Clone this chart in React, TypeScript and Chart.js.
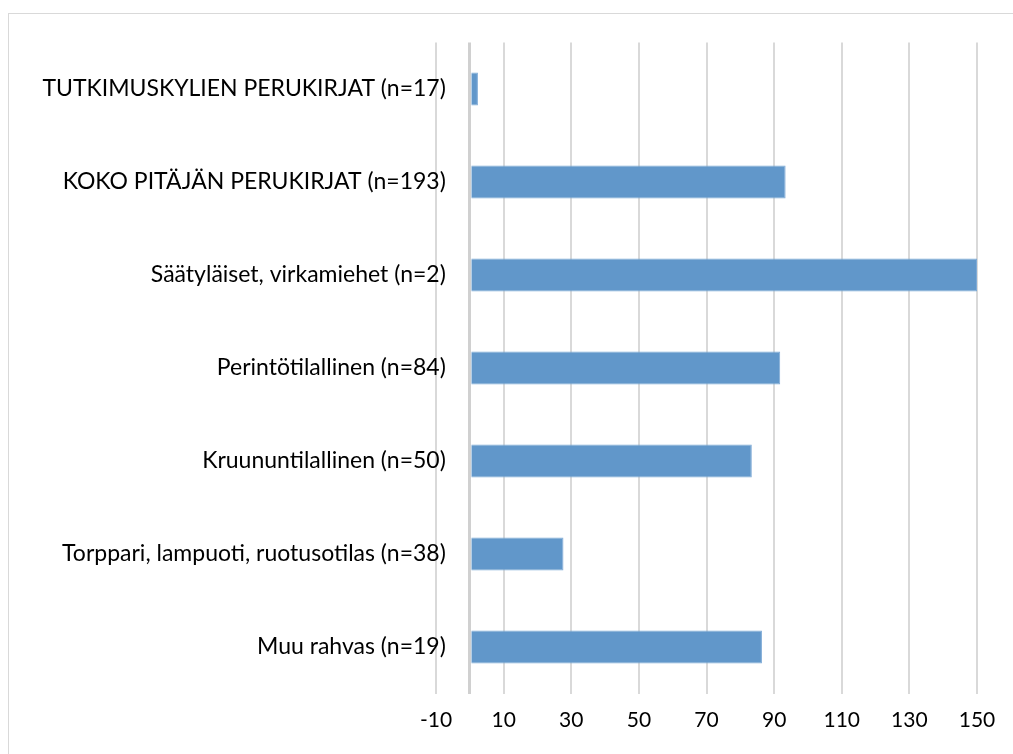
import React, { useEffect, useRef } from "react";
import { Chart, registerables } from "chart.js";

Chart.register(...registerables);

const categories = [
  "TUTKIMUSKYLIEN PERUKIRJAT (n=17)",
  "KOKO PITÄJÄN PERUKIRJAT (n=193)",
  "Säätyläiset, virkamiehet (n=2)",
  "Perintötilallinen (n=84)",
  "Kruununtilallinen (n=50)",
  "Torppari, lampuoti, ruotusotilas (n=38)",
  "Muu rahvas (n=19)",
];

const values = [2.4, 93.4, 150, 91.8, 83.4, 27.7, 86.4];

const axisMin = -10;
const axisMax = 150;
const axisStep = 20;

// value on the x axis where the category labels end (right-aligned)
const labelAnchor = -7.1;

const FONT = "Lato";

export default function App() {
  const ref = useRef<HTMLCanvasElement | null>(null);

  useEffect(() => {
    if (!ref.current) return;
    const chart = new Chart(ref.current, {
      type: "bar",
      data: {
        labels: categories,
        datasets: [
          {
            data: values,
            backgroundColor: "#6197ca",
            borderColor: "#7eaad6",
            borderWidth: 1,
            categoryPercentage: 1,
            barPercentage: 0.355,
          },
        ],
      },
      options: {
        indexAxis: "y",
        animation: false,
        responsive: false,
        maintainAspectRatio: false,
        layout: { padding: { left: 427, right: 36, top: 28.5, bottom: 0 } },
        plugins: {
          legend: { display: false },
          tooltip: { enabled: false },
          title: { display: false },
        },
        scales: {
          x: {
            type: "linear",
            min: axisMin,
            max: axisMax,
            ticks: {
              stepSize: axisStep,
              autoSkip: false,
              maxRotation: 0,
              padding: 14,
              color: "#000000",
              font: { family: FONT, size: 21 },
              callback: (v: any) => (Number(v) === 0 ? "" : String(v)),
            },
            afterBuildTicks: (s: any) => {
              const t = s.ticks.slice();
              if (!t.some((k: any) => k.value === 0)) t.push({ value: 0 });
              t.sort((a: any, b: any) => a.value - b.value);
              s.ticks = t;
            },
            afterFit: (s: any) => {
              s.height = 60.5;
              s.paddingLeft = 0;
              s.paddingRight = 0;
            },
            grid: {
              drawTicks: false,
              color: (c: any) => (c.tick && c.tick.value === 0 ? "#d0d0d0" : "#d9d9d9"),
              lineWidth: (c: any) => (c.tick && c.tick.value === 0 ? 3 : 2),
            },
            border: { display: false },
          },
          y: {
            type: "category",
            position: { x: labelAnchor } as any,
            ticks: {
              padding: 0,
              autoSkip: false,
              color: "#000000",
              font: { family: FONT, size: 23 },
            },
            afterFit: (s: any) => {
              s.width = 0;
              s.paddingTop = 0;
              s.paddingBottom = 0;
            },
            grid: { display: false, drawTicks: false },
            border: { display: false },
          },
        },
      },
    });
    return () => chart.destroy();
  }, []);

  return (
    <div
      style={{
        position: "fixed",
        left: 8,
        top: 13,
        width: 1005,
        height: 741,
        overflow: "hidden",
      }}
    >
      <div
        style={{
          position: "absolute",
          left: 0,
          top: 0,
          width: 1100,
          height: 800,
          border: "1px solid #d9d9d9",
          boxSizing: "border-box",
        }}
      >
        <canvas
          ref={ref}
          width={1004}
          height={740}
          style={{ position: "absolute", left: 0, top: 0, width: 1004, height: 740 }}
        />
      </div>
    </div>
  );
}
